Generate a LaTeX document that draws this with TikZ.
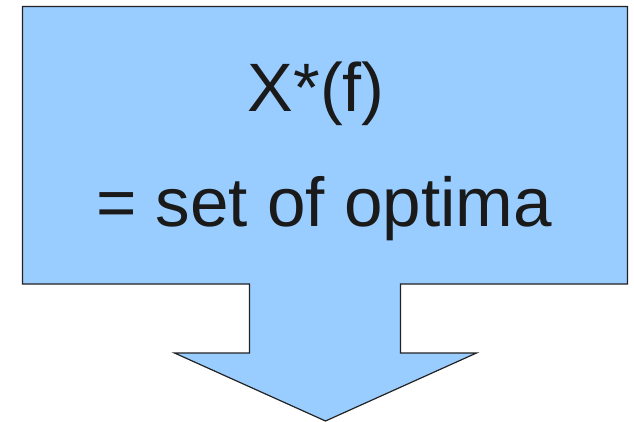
\documentclass[tikz,border=0pt]{standalone}
\usepackage{fontspec}
\setmainfont{Liberation Sans}
\definecolor{calloutfill}{HTML}{99CCFF}
\definecolor{calloutline}{HTML}{222222}
\definecolor{txt}{HTML}{1A1A1A}
\begin{document}
\begin{tikzpicture}[x=1pt,y=-1pt,
  callout/.style={fill=calloutfill,draw=calloutline,line width=1.2pt,line join=miter},
  bigtext/.style={inner sep=0pt,anchor=base west,text=txt,font=\fontsize{68.5}{68.5}\selectfont}]
\useasboundingbox (0,0) rectangle (634,422);
\draw[callout] (22.5,6.5) -- (627.5,6.5) -- (627.5,284) -- (400.5,284) -- (400.5,353)
  -- (476.5,353) -- (325.5,421) -- (174.5,353) -- (249.5,353) -- (249.5,284)
  -- (22.5,284) -- cycle;
\node[bigtext] (l1) at (247.5,112) {X*(f)};
\node[bigtext,font=\fontsize{69.2}{69.2}\selectfont] (l2) at (96,226) {= set of optima};
\end{tikzpicture}
\end{document}
